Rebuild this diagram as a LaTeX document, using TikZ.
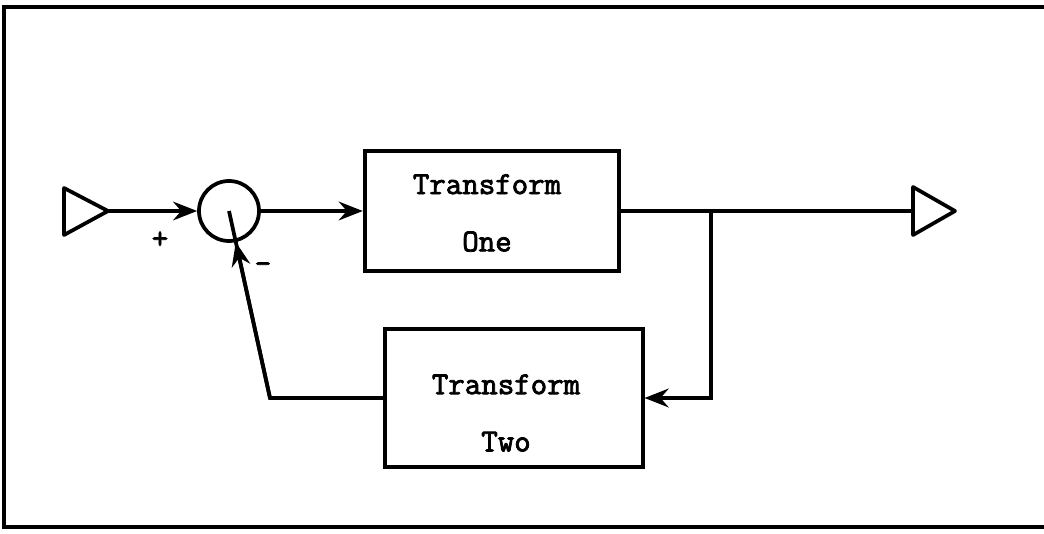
\documentclass[tikz,border=0pt]{standalone}
\usepackage{fontspec}
\setmonofont{Latin Modern Mono}[AutoFakeBold=2.5]
\usetikzlibrary{arrows.meta,positioning}

\tikzset{
  block/.style={draw, rectangle, inner sep=0pt},
  blocktext/.style={align=center, font=\ttfamily\bfseries\fontsize{24}{43}\selectfont},
  sign/.style={font=\ttfamily\bfseries\fontsize{24}{24}\selectfont, inner sep=0pt}
}

\begin{document}
\begin{tikzpicture}[x=0.75pt, y=-0.75pt, line width=2.8pt,
  >={Stealth[length=18pt, width=14pt, inset=6pt]}]

\useasboundingbox (0,0) rectangle (1044,534);

% frame (open on the right)
\draw (1044,7) -- (4,7) -- (4,527) -- (1044,527);

% input and output triangles
\coordinate (src) at (108,211);
\draw[line join=round] (src) -- (64,188) -- (64,235) -- cycle;
\coordinate (sink) at (913,211);
\draw[line join=round] (sink) -- (913,187) -- (955,211) -- (913,235) -- cycle;

% summing junction
\node[draw, circle, minimum size=45pt, inner sep=0pt] (sum) at (229,211) {};
\node[sign] (plus) at (160,240) {+};
\node[sign] (minus) at (263,268) {-};

% blocks
\node[block, minimum width=191pt, minimum height=90pt] (one) at (492,211) {};
\node[blocktext] (onetext) at ([shift={(-5,2)}]one.center) {Transform\\One};
\node[block, minimum width=193pt, minimum height=103pt] (two) at (514,398) {};
\node[blocktext] (twotext) at ([shift={(-8,15)}]two.center) {Transform\\Two};

% forward path
\draw[->] (src) -- (sum);
\draw[->] (sum) -- (one);
\draw (one) -- (sink);

% feedback path
\coordinate (tap) at (711,211);
\coordinate (fb) at (270,398);
\draw[->] (tap) |- (two);
\draw (sum.center) -- (fb) -- (two);
\draw[->] (fb) -- (sum);

\end{tikzpicture}
\end{document}
